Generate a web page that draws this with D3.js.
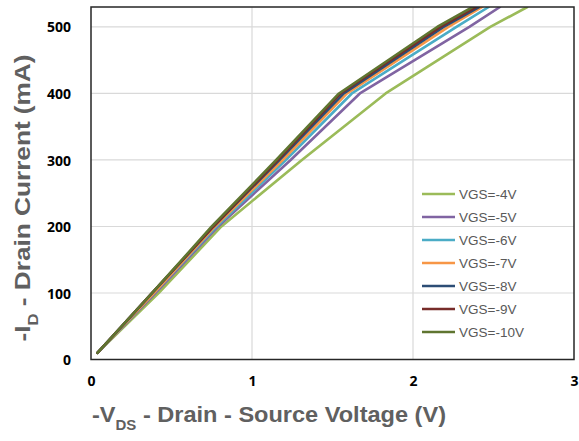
<!DOCTYPE html>
<html>
<head>
<meta charset="utf-8">
<script src="https://cdn.jsdelivr.net/npm/d3@7"></script>
<style>
  body { margin: 0; background: #fff; }
  svg { display: block; }
  .tick text { font-family: "Open Sans", sans-serif; font-weight: 700; font-size: 14px; fill: #000; }
</style>
</head>
<body>
<div id="chart"></div>
<script>
// drain current points (mA) at which each curve was read
var currents = [10, 100, 200, 300, 400, 500, 530];

// -VDS (V) at those currents
var vgs4 = [0.04, 0.42, 0.81, 1.31, 1.83, 2.48, 2.71];
var vgs5 = [0.04, 0.40, 0.79, 1.24, 1.67, 2.35, 2.54];
var vgs6 = [0.04, 0.39, 0.78, 1.21, 1.62, 2.27, 2.47];
var vgs7 = [0.04, 0.39, 0.77, 1.19, 1.59, 2.22, 2.43];
var vgs8 = [0.04, 0.38, 0.76, 1.17, 1.57, 2.19, 2.41];
var vgs9 = [0.04, 0.38, 0.76, 1.16, 1.55, 2.17, 2.39];
var vgs10 = [0.04, 0.38, 0.75, 1.15, 1.54, 2.15, 2.37];

var seriesNames = ["VGS=-4V", "VGS=-5V", "VGS=-6V", "VGS=-7V", "VGS=-8V", "VGS=-9V", "VGS=-10V"];
var seriesColors = ["#9bbb59", "#8064a2", "#4bacc6", "#f79646", "#2c4d75", "#772c2a", "#5f7530"];
var xTicks = [0, 1, 2, 3];
var yTicks = [0, 100, 200, 300, 400, 500];

var allSeries = [vgs4, vgs5, vgs6, vgs7, vgs8, vgs9, vgs10];

var width = 579, height = 441;
var svg = d3.select("#chart").append("svg")
	.attr("width", width)
	.attr("height", height);

var x = d3.scaleLinear().domain([0, 3]).range([91, 574]);
var y = d3.scaleLinear().domain([0, 530]).range([359.5, 7]);

svg.append("defs").append("clipPath")
	.attr("id", "plotClip")
	.append("rect")
	.attr("x", x(0)).attr("y", y(530))
	.attr("width", x(3) - x(0)).attr("height", y(0) - y(530));

// gridlines
svg.append("g")
	.selectAll("line.vgrid")
	.data([1, 2])
	.enter().append("line")
	.attr("x1", function(d) { return x(d); })
	.attr("x2", function(d) { return x(d); })
	.attr("y1", y(0)).attr("y2", y(530))
	.style("stroke", "#d9d9d9").style("stroke-width", 1.2);

svg.append("g")
	.selectAll("line.hgrid")
	.data([100, 200, 300, 400, 500])
	.enter().append("line")
	.attr("x1", x(0)).attr("x2", x(3))
	.attr("y1", function(d) { return y(d); })
	.attr("y2", function(d) { return y(d); })
	.style("stroke", "#d9d9d9").style("stroke-width", 1.2);

// curves - straight segments between the read points
var line = d3.line()
	.x(function(d) { return x(d[0]); })
	.y(function(d) { return y(d[1]); });

var curves = svg.append("g").attr("clip-path", "url(#plotClip)");
allSeries.forEach(function(vals, i) {
	var pts = vals.map(function(v, j) { return [v, currents[j]]; });
	curves.append("path")
		.datum(pts)
		.attr("d", line)
		.style("fill", "none")
		.style("stroke", seriesColors[i])
		.style("stroke-width", 2.6)
		.style("stroke-linejoin", "round")
		.style("stroke-linecap", "round");
});

// plot border
svg.append("rect")
	.attr("x", x(0)).attr("y", y(530))
	.attr("width", x(3) - x(0)).attr("height", y(0) - y(530))
	.style("fill", "none").style("stroke", "#262626").style("stroke-width", 1.5);

// axes (labels only)
var xAxis = svg.append("g")
	.attr("transform", "translate(0," + (y(0) + 14) + ")")
	.call(d3.axisBottom(x).tickValues(xTicks).tickSize(0).tickFormat(d3.format("d")));
xAxis.select(".domain").remove();

var yAxis = svg.append("g")
	.attr("transform", "translate(" + (x(0) - 20) + ",0)")
	.call(d3.axisLeft(y).tickValues(yTicks).tickSize(0).tickFormat(d3.format("d")));
yAxis.select(".domain").remove();
yAxis.selectAll("text").attr("x", 0).attr("dy", "0.36em");

// axis titles
var yTitle = svg.append("text")
	.attr("transform", "translate(30,198) rotate(-90)")
	.attr("text-anchor", "middle")
	.style("font-family", "Liberation Sans, Arial, sans-serif")
	.style("font-weight", 700)
	.style("font-size", "22px")
	.style("fill", "#606060");
yTitle.append("tspan").text("-I");
yTitle.append("tspan").attr("baseline-shift", "sub").style("font-size", "14px").text("D");
yTitle.append("tspan").text(" - Drain Current (mA)");

var xTitle = svg.append("text")
	.attr("x", 269).attr("y", 422)
	.attr("text-anchor", "middle")
	.style("font-family", "Liberation Sans, Arial, sans-serif")
	.style("font-weight", 700)
	.style("font-size", "22px")
	.style("fill", "#606060");
xTitle.append("tspan").text("-V");
xTitle.append("tspan").attr("baseline-shift", "sub").style("font-size", "14px").text("DS");
xTitle.append("tspan").text(" - Drain - Source Voltage (V)");

// stretch / squeeze titles to the widths seen in the picture
yTitle.attr("textLength", 287).attr("lengthAdjust", "spacingAndGlyphs");
xTitle.attr("textLength", 354).attr("lengthAdjust", "spacingAndGlyphs");

// legend
var legend = svg.append("g");
seriesNames.forEach(function(name, i) {
	var ly = 194 + i * 23;
	legend.append("line")
		.attr("x1", 422).attr("x2", 455)
		.attr("y1", ly).attr("y2", ly)
		.style("stroke", seriesColors[i]).style("stroke-width", 2.6);
	legend.append("text")
		.attr("x", 459).attr("y", ly)
		.attr("dy", "0.36em")
		.style("font-family", "Liberation Sans, Arial, sans-serif")
		.style("font-size", "13.5px")
		.style("fill", "#595959")
		.text(name);
});
</script>
</body>
</html>
